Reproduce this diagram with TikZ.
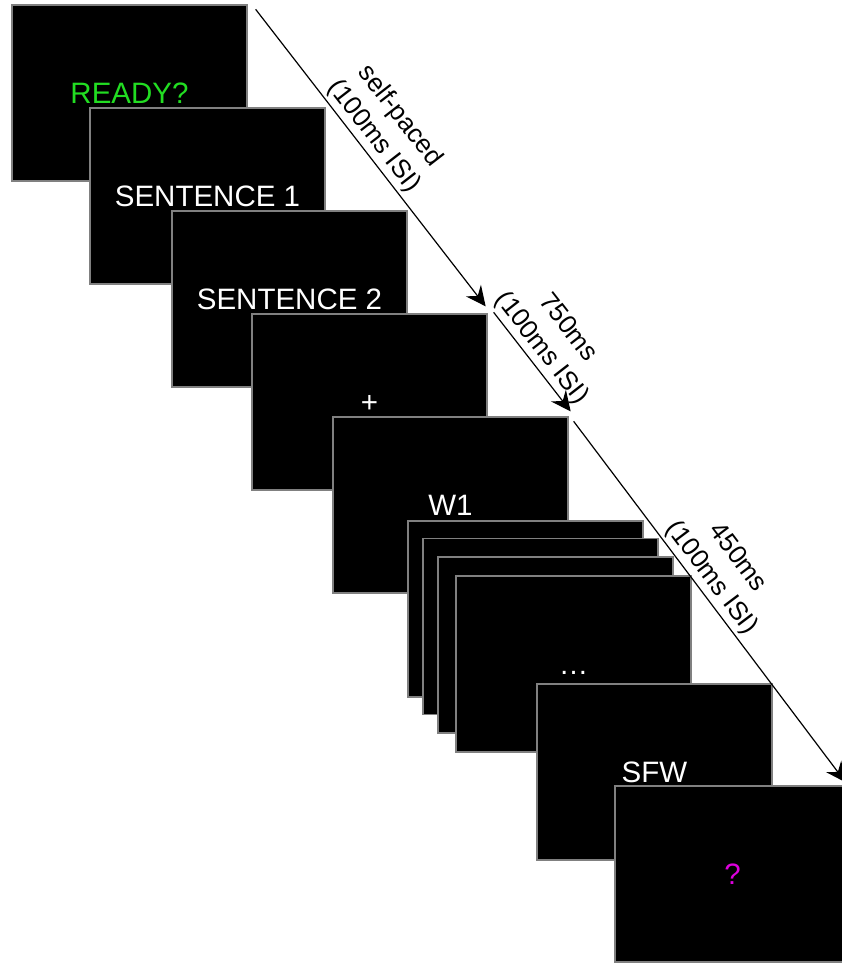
\documentclass[tikz,border=0pt]{standalone}
\usepackage{fontspec}
\setmainfont{Liberation Sans}
\usetikzlibrary{arrows.meta}
\definecolor{screenedge}{RGB}{128,128,128}
\definecolor{readygreen}{RGB}{34,221,34}
\definecolor{probemagenta}{RGB}{221,0,221}

\begin{document}
\begin{tikzpicture}[x=1pt, y=-1pt,
    screen/.style={draw=screenedge, line width=1.3pt, fill=black, text=white,
      minimum width=235pt, minimum height=176pt, inner sep=0pt,
      text height=21pt, text depth=0pt, font=\fontsize{29.5}{34}\selectfont},
    timearrow/.style={line width=1.2pt, -{Stealth[length=20pt, width=19pt, inset=7pt]}},
    timelabel/.style={pos=0.46, sloped, above, align=center, inner sep=3pt,
      font=\fontsize{26}{33}\selectfont}]
  \clip (0,0) rectangle (842,965);
  % screens, each one over the last
  \node[screen, text=readygreen] (ready) at (129.5,93) {READY?};
  \node[screen] (sentA) at (207.5,196) {SENTENCE 1};
  \node[screen] (sentB) at (289.5,299) {SENTENCE 2};
  \node[screen] (fix) at (369.5,402) {+};
  \node[screen] (word1) at (450.5,505) {W1};
  \node[screen] (wordA) at (525.5,609) {};
  \node[screen] (wordB) at (540.5,626.5) {};
  \node[screen] (wordC) at (555.5,645) {};
  \node[screen] (words) at (573.5,664) {\dots};
  \node[screen] (sfw) at (654.5,772) {SFW};
  \node[screen, text=probemagenta] (probe) at (732.5,874) {?};
  % timing arrows
  \draw[timearrow] ([shift={(8,5)}]ready.north east) -- ([shift={(-2,-7)}]fix.north east)
    node[timelabel] {self-paced\\(100ms ISI)};
  \draw[timearrow] ([shift={(6,-1)}]fix.north east) -- ([shift={(2,-5)}]word1.north east)
    node[timelabel] {750ms\\(100ms ISI)};
  \draw[timearrow] ([shift={(5,5)}]word1.north east) -- ([shift={(-5,-3)}]probe.north east)
    node[timelabel] {450ms\\(100ms ISI)};
\end{tikzpicture}
\end{document}
